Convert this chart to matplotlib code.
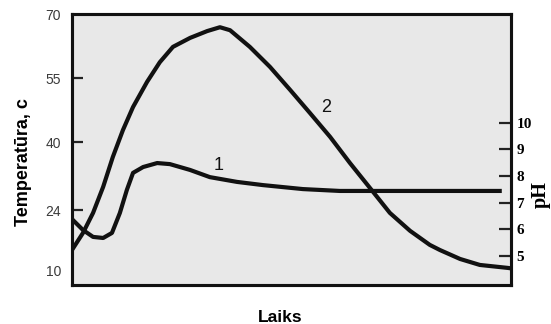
import matplotlib
matplotlib.use("Agg")
import matplotlib.pyplot as plt

# Curve 2: temperature (left axis)
time_temp = [0, 2.5, 4.8, 7.1, 9.3, 11.6, 13.9, 17.1, 20.0, 23.0, 26.9, 30.8, 33.7,
             36.0, 40.5, 45.1, 49.7, 54.2, 58.8, 63.3, 67.9, 72.4, 77.0, 81.5,
             83.8, 88.4, 92.9, 99.3, 100]
temperature = [14.7, 18.7, 23.4, 29.5, 36.5, 42.8, 48.2, 54.1, 58.7, 62.3, 64.4, 66.0,
               66.9, 66.2, 62.3, 57.6, 52.2, 46.8, 41.2, 35.1, 29.2, 23.4, 19.2, 15.9,
               14.7, 12.6, 11.2, 10.5, 10.4]

# Curve 1: pH (right axis)
time_ph = [0, 2.5, 4.8, 7.1, 9.1, 10.9, 12.5, 13.9, 16.2, 19.4, 22.3, 26.9, 31.4,
           37.6, 43.5, 52.6, 61.0, 68.6, 81.5, 97.9]
ph = [6.38, 5.97, 5.71, 5.67, 5.86, 6.61, 7.48, 8.12, 8.34, 8.49, 8.45, 8.23, 7.96,
      7.78, 7.66, 7.51, 7.44, 7.44, 7.44, 7.44]

temp_major = [24, 40, 55]
temp_edge = [10, 70]
ph_ticks = [5, 6, 7, 8, 9, 10]

fig = plt.figure(figsize=(5.51, 3.24), dpi=100)
ax = fig.add_axes([72/551, 1-285/324, 439/551, 271/324])
ax.set_facecolor("#e8e8e8")
ax.set_xlim(0, 100)
ax.set_ylim(6.5, 70)
ax.set_xticks([])
ax.set_yticks(temp_major)
ax.set_yticklabels([str(v) for v in temp_major])
ax.set_yticks(temp_edge, minor=True)
ax.set_yticklabels([str(v) for v in temp_edge], minor=True)
ax.tick_params(axis="y", which="major", direction="in", length=8, width=1.6,
               pad=8, labelsize=10, labelcolor="#3a3a3a", color="#222222")
ax.tick_params(axis="y", which="minor", direction="in", length=0,
               pad=8, labelsize=10, labelcolor="#3a3a3a")
for lab in ax.get_yticklabels(which="both"):
    lab.set_family("Liberation Sans")
for s in ax.spines.values():
    s.set_linewidth(2.2)
    s.set_color("#111111")

ax.plot(time_temp, temperature, color="#111111", lw=3, solid_joinstyle="round",
        solid_capstyle="butt")

ax2 = ax.twinx()
ax2.set_ylim(3.9, 14.1)
ax2.set_yticks(ph_ticks)
ax2.set_yticklabels([str(v) for v in ph_ticks], family="Liberation Serif",
                    fontweight="bold")
ax2.tick_params(axis="y", direction="in", length=8.5, width=1.6, pad=4,
                labelsize=11, color="#222222")
for s in ax2.spines.values():
    s.set_linewidth(2.2)
    s.set_color("#111111")
ax2.plot(time_ph, ph, color="#111111", lw=3, solid_joinstyle="round",
         solid_capstyle="butt")

ax.set_ylabel("Temperatūra, c", family="Liberation Sans", fontweight="bold",
              fontsize=13)
ax.yaxis.set_label_coords(-0.091, 0.454)
ax.set_xlabel("Laiks", family="Liberation Sans", fontweight="bold", fontsize=12.5)
ax.xaxis.set_label_coords(0.474, -0.092)
ax2.set_ylabel("pH", family="Liberation Serif", fontweight="bold", fontsize=14.5)
ax2.yaxis.set_label_coords(1.046, 0.332)

ax.text(33.5, 34.6, "1", family="Liberation Sans", fontsize=13,
        ha="center", va="center", color="#111111")
ax.text(57.9, 48.2, "2", family="Liberation Sans", fontsize=13,
        ha="center", va="center", color="#111111")

fig.savefig("out.png", dpi=100, facecolor="white")
